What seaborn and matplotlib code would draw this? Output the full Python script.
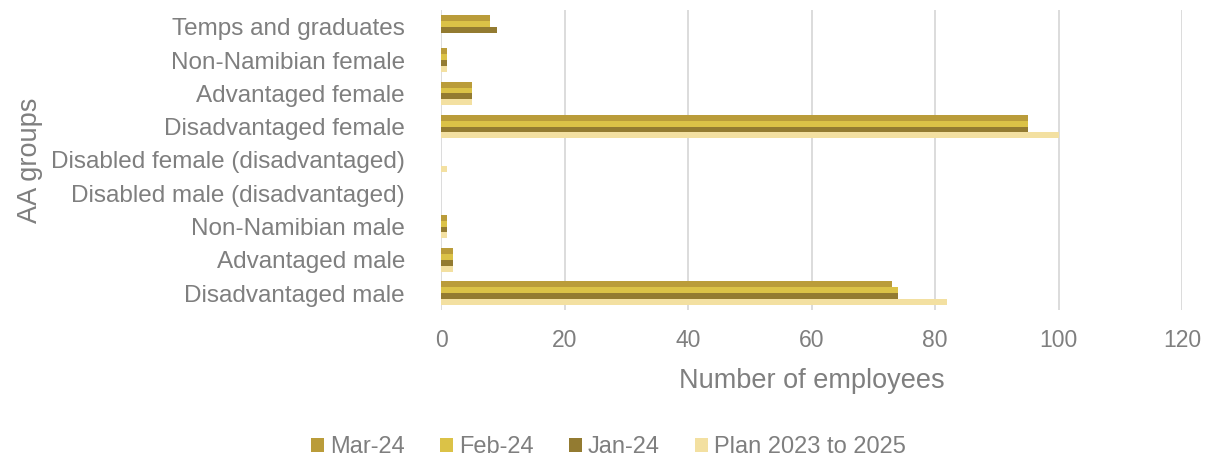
import pandas as pd
import numpy as np
import matplotlib
matplotlib.use("Agg")
import matplotlib.pyplot as plt
import seaborn as sns
from matplotlib.patches import Patch

# Chart data
groups = [
    "Temps and graduates",
    "Non-Namibian female",
    "Advantaged female",
    "Disadvantaged female",
    "Disabled female (disadvantaged)",
    "Disabled male (disadvantaged)",
    "Non-Namibian male",
    "Advantaged male",
    "Disadvantaged male",
]
series = ["Mar-24", "Feb-24", "Jan-24", "Plan 2023 to 2025"]
mar_24 = [8, 1, 5, 95, 0, 0, 1, 2, 73]
feb_24 = [8, 1, 5, 95, 0, 0, 1, 2, 74]
jan_24 = [9, 1, 5, 95, 0, 0, 1, 2, 74]
plan_23_25 = [0, 1, 5, 100, 1, 0, 1, 2, 82]
x_ticks = [0, 20, 40, 60, 80, 100, 120]

colors = ["#BA9C3A", "#DBC247", "#937B31", "#F3E0A1"]
text_grey = "#7F7F7F"

# Long format table for seaborn
data = pd.DataFrame({
    "group": groups * 4,
    "series": np.repeat(series, len(groups)),
    "value": mar_24 + feb_24 + jan_24 + plan_23_25,
})

sns.set_style("white")
plt.rcParams['font.family'] = ['Liberation Sans', 'DejaVu Sans']

fig = plt.figure(figsize=(12.05, 4.61), dpi=100)
ax = fig.add_axes([0.366, 0.328, 0.615, 0.65])

sns.barplot(
    data=data, y="group", x="value", hue="series",
    order=groups, hue_order=series, palette=colors,
    orient="h", width=0.7, dodge=True, ax=ax, legend=False,
    saturation=1, errorbar=None, linewidth=0,
)

ax.set_xlim(0, 120)
ax.set_xticks(x_ticks)
ax.xaxis.grid(True, color="#D9D9D9", linewidth=1.3)
ax.set_axisbelow(True)
for s in ax.spines.values():
    s.set_visible(False)

ax.tick_params(axis="x", colors=text_grey, labelsize=16.5, length=0, pad=14)
ax.tick_params(axis="y", colors=text_grey, labelsize=17.5, length=0, pad=26)
ax.set_xlabel("Number of employees", color=text_grey, fontsize=19.5, labelpad=11)
ax.set_ylabel("AA groups", color=text_grey, fontsize=19.5, labelpad=6)

handles = [Patch(facecolor=c, edgecolor="none") for c in colors]
fig.legend(handles, series, loc="lower center", bbox_to_anchor=(0.505, -0.04),
           ncol=4, frameon=False, fontsize=17, handlelength=0.55,
           handleheight=0.55, handletextpad=0.25, columnspacing=1.5,
           labelcolor=text_grey)

fig.savefig("out.png", dpi=100)
